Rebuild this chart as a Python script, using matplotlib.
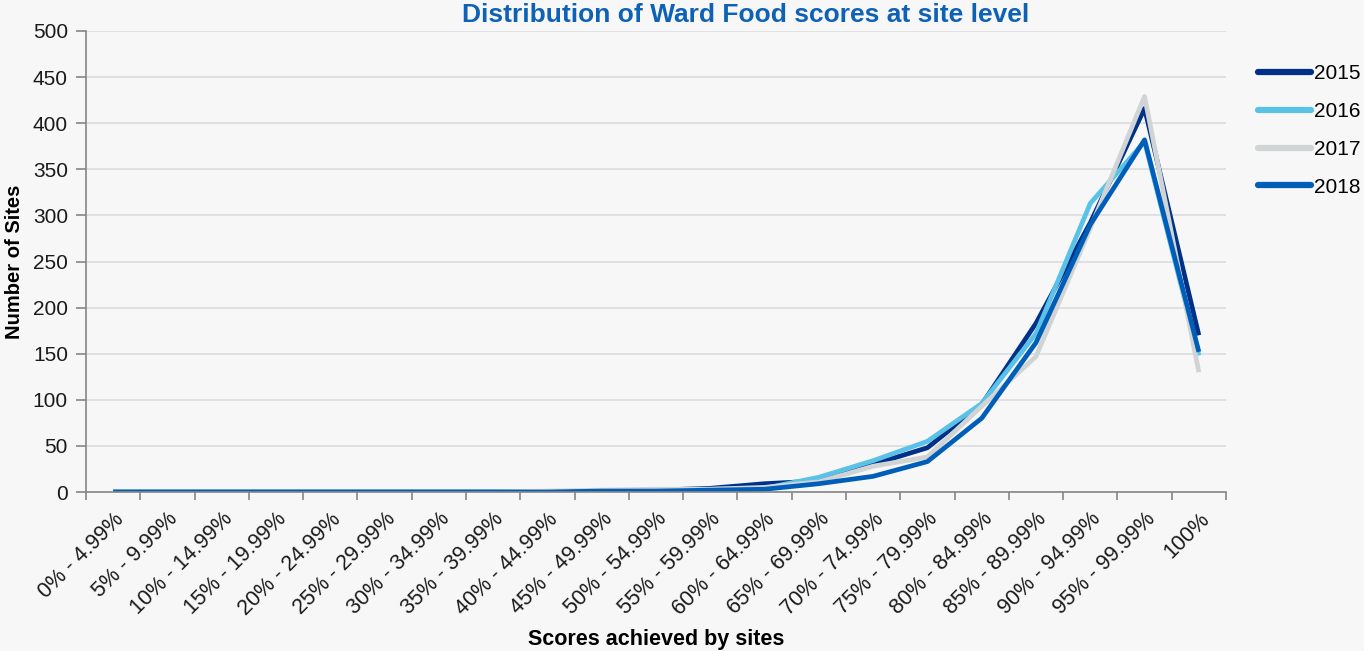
import matplotlib.pyplot as plt
from matplotlib.ticker import FixedLocator

plt.rcParams['font.family'] = ['Liberation Sans', 'DejaVu Sans']

# Score bands (x categories)
categories = ['0% - 4.99%', '5% - 9.99%', '10% - 14.99%', '15% - 19.99%',
              '20% - 24.99%', '25% - 29.99%', '30% - 34.99%', '35% - 39.99%',
              '40% - 44.99%', '45% - 49.99%', '50% - 54.99%', '55% - 59.99%',
              '60% - 64.99%', '65% - 69.99%', '70% - 74.99%', '75% - 79.99%',
              '80% - 84.99%', '85% - 89.99%', '90% - 94.99%', '95% - 99.99%',
              '100%']

# Number of sites per band
sites_2015 = [0, 0, 0, 0, 0, 0, 0, 0, 0, 1, 2, 4, 9, 12, 30, 48, 95, 183, 292, 416, 170]
sites_2016 = [0, 0, 0, 0, 0, 0, 0, 0, 0, 1, 2, 3, 4, 16, 34, 55, 96, 172, 313, 380, 148]
sites_2017 = [0, 0, 0, 0, 0, 0, 0, 0, 1, 2, 3, 3, 5, 11, 28, 38, 93, 147, 286, 429, 130]
sites_2018 = [0, 0, 0, 0, 0, 0, 0, 0, 0, 1, 1, 2, 3, 9, 17, 33, 80, 162, 290, 382, 152]

years = ['2015', '2016', '2017', '2018']
colors = ['#003087', '#5BC2E7', '#D0D4D5', '#005EB8']
series = [sites_2015, sites_2016, sites_2017, sites_2018]

bg = '#F7F7F7'
fig = plt.figure(figsize=(13.64, 6.51), dpi=100, facecolor=bg)
ax = fig.add_axes([86 / 1364, 159 / 651, 1140 / 1364, 461 / 651], facecolor=bg)

x = list(range(len(categories)))
for vals, year, col in zip(series, years, colors):
    ax.plot(x, vals, color=col, linewidth=3.4, label=year,
            solid_joinstyle='round', solid_capstyle='butt')

ax.set_xlim(-0.5, len(categories) - 0.5)
ax.set_ylim(0, 500)
ax.set_yticks(range(0, 501, 50))
ax.grid(axis='y', color='#D9DCDF', linewidth=1.2)
ax.set_axisbelow(True)

# labels at band centres, tick marks at band boundaries
ax.set_xticks(x)
ax.set_xticklabels(categories, rotation=45, ha='right', rotation_mode='anchor',
                   fontsize=15.5, color='#1A1A1A')
ax.tick_params(axis='x', which='major', length=0, pad=12)
ax.xaxis.set_minor_locator(FixedLocator([i - 0.5 for i in range(len(categories) + 1)]))
ax.tick_params(axis='x', which='minor', length=6, width=1.2, color='#868686')
ax.tick_params(axis='y', length=7, width=1.2, color='#868686', pad=6,
               labelsize=15, labelcolor='#1A1A1A')

for side in ['top', 'right']:
    ax.spines[side].set_visible(False)
for side in ['left', 'bottom']:
    ax.spines[side].set_color('#868686')
    ax.spines[side].set_linewidth(1.2)

ax.set_ylabel('Number of Sites', fontsize=14.5, fontweight='bold', labelpad=6)
ax.set_xlabel('Scores achieved by sites', fontsize=15.5, fontweight='bold', labelpad=7)
fig.text(0.547, 1 - 15 / 651, 'Distribution of Ward Food scores at site level',
         ha='center', va='center', fontsize=19, fontweight='bold', color='#0E62B5')

fig.legend(loc='upper left', bbox_to_anchor=(1250 / 1364, 1 - 56 / 651),
           frameon=False, fontsize=15, handlelength=2.55, handletextpad=0.1,
           labelspacing=0.9, borderaxespad=0)
for line in fig.legends[0].get_lines():
    line.set_linewidth(4.5)
    line.set_solid_capstyle('round')

fig.savefig('out.png', dpi=100, facecolor=bg)
